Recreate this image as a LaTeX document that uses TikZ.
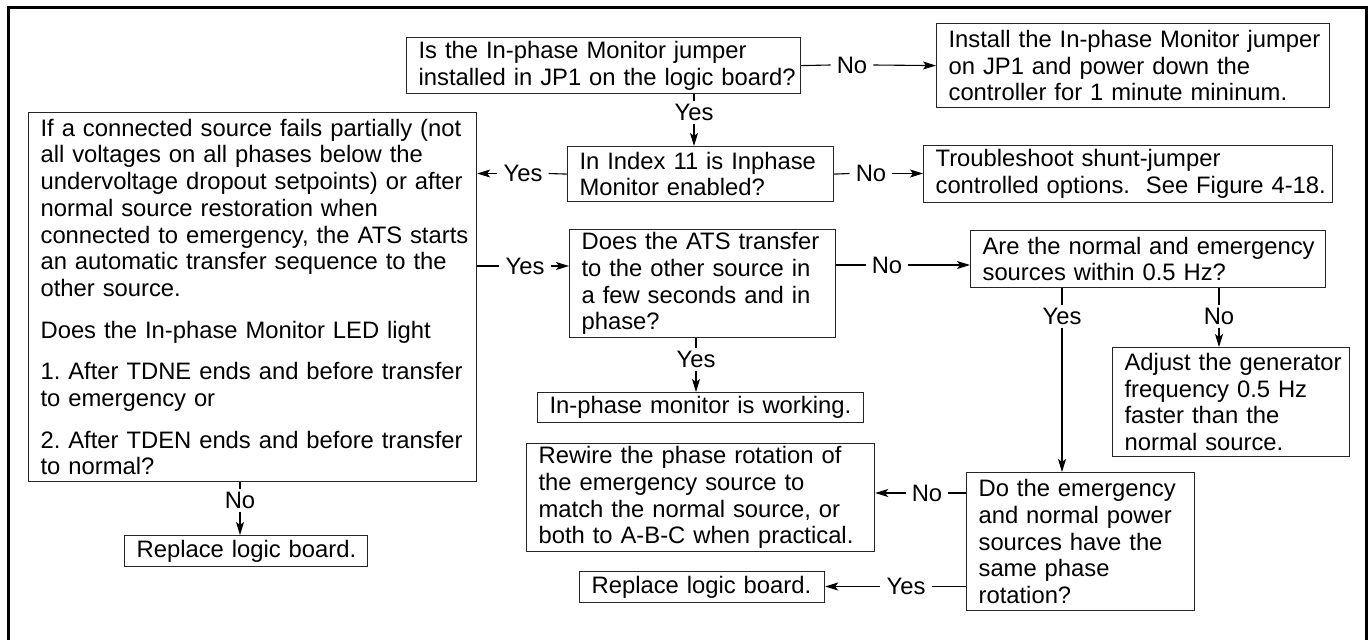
\documentclass[tikz,border=0pt]{standalone}
\usepackage{fontspec}
\setmainfont{Liberation Sans}
\usetikzlibrary{arrows.meta}
\frenchspacing
\newcommand\fsz{\fontsize{23.8}{26.7}\selectfont}
\begin{document}
\begin{tikzpicture}[x=1pt,y=-1pt,
  box/.style={draw=black!85,line width=1.2pt,anchor=north west,align=left,
    inner xsep=12pt,inner ysep=0pt,font=\fsz,
    execute at begin node={\frenchspacing\rightskip=-14pt plus 1fill\relax}},
  lbl/.style={font=\fsz,inner xsep=6pt,inner ysep=3pt},
  conn/.style={line width=1.1pt},
  arr/.style={conn,-{Stealth[length=13pt,width=8pt,inset=3pt]}}]
\useasboundingbox (0,0) rectangle (1371,640);
\draw[line width=3pt] (8,640) -- (8,7) -- (1366,7) -- (1366,640);

\node[box,text width=370pt,minimum height=56pt] (b1) at (406,37)
  {Is the In-phase Monitor jumper\\installed in JP1 on the logic board?};
\node[box,text width=369pt,minimum height=84pt] (b2) at (936,23)
  {Install the In-phase Monitor jumper\\on JP1 and power down the\\controller for 1 minute mininum.};
\node[box,text width=242pt,minimum height=55pt] (b3) at (567,146)
  {In Index 11 is Inphase\\Monitor enabled?};
\node[box,text width=385pt,minimum height=57pt] (b4) at (923,145)
  {Troubleshoot shunt-jumper\\controlled options.\ \ See Figure 4-18.};
\node[box,text width=424pt,minimum height=369pt] (big) at (28,112)
  {If a connected source fails partially (not\\all voltages on all phases below the\\undervoltage dropout setpoints) or after\\normal source restoration when\\connected to emergency, the ATS starts\\an automatic transfer sequence to the\\other source.\\[15pt]Does the In-phase Monitor LED light\\[15pt]1. After TDNE ends and before transfer\\to emergency or\\[15pt]2. After TDEN ends and before transfer\\to normal?};
\node[box,text width=242pt,minimum height=108pt] (b5) at (569,229)
  {Does the ATS transfer\\to the other source in\\a few seconds and in\\phase?};
\node[box,text width=331pt,minimum height=57pt] (b6) at (970,230)
  {Are the normal and emergency\\sources within 0.5 Hz?};
\node[box,text width=302pt,minimum height=30pt] (b7) at (537,392)
  {In-phase monitor is working.};
\node[box,text width=213pt,minimum height=109pt] (b8) at (1112,347)
  {Adjust the generator\\frequency 0.5 Hz\\faster than the\\normal source.};
\node[box,text width=204pt,minimum height=138pt] (b9) at (966,472)
  {Do the emergency\\and normal power\\sources have the\\same phase\\rotation?};
\node[box,text width=324pt,minimum height=108pt] (b10) at (526,443)
  {Rewire the phase rotation of\\the emergency source to\\match the normal source, or\\both to A-B-C when practical.};
\node[box,text width=221pt,minimum height=31pt] (b11) at (579,571)
  {Replace logic board.};
\node[box,text width=219pt,minimum height=31pt] (b12) at (124,535)
  {Replace logic board.};

% labels
\node[lbl] (no1) at (852,65) {No};
\node[lbl] (yes1) at (694,112.5) {Yes};
\node[lbl] (yes2) at (523,173.5) {Yes};
\node[lbl] (no2) at (871,173.5) {No};
\node[lbl] (yes3) at (525,266) {Yes};
\node[lbl] (no3) at (887,265) {No};
\node[lbl] (yes5) at (696,359) {Yes};
\node[lbl] (yes4) at (1062,316) {Yes};
\node[lbl] (no4) at (1219,316) {No};
\node[lbl] (no5) at (927,493) {No};
\node[lbl] (yes6) at (906,586.5) {Yes};
\node[lbl] (no6) at (240,500) {No};

% connectors
\draw[conn] (b1.east) -- (no1.west);
\draw[arr] (no1.east) -- (b2.west);
\draw[conn] (yes1 |- b1.south) -- (yes1.north);
\draw[arr] (yes1.south) -- (yes1 |- b3.north);
\draw[conn] (b3.west) -- (yes2.east);
\draw[arr] (yes2.west) -- (yes2 -| big.east);
\draw[conn] (b3.east) -- (no2.west);
\draw[arr] (no2.east) -- (no2 -| b4.west);
\draw[conn] (yes3 -| big.east) -- (yes3.west);
\draw[arr] (yes3.east) -- (yes3 -| b5.west);
\draw[conn] (no3 -| b5.east) -- (no3.west);
\draw[arr] (no3.east) -- (no3 -| b6.west);
\draw[conn] (yes5 |- b5.south) -- (yes5.north);
\draw[arr] (yes5.south) -- (yes5 |- b7.north);
\draw[conn] (yes4 |- b6.south) -- (yes4.north);
\draw[arr] (yes4.south) -- (yes4 |- b9.north);
\draw[conn] (no4 |- b6.south) -- (no4.north);
\draw[arr] (no4.south) -- (no4 |- b8.north);
\draw[conn] (no5 -| b9.west) -- (no5.east);
\draw[arr] (no5.west) -- (no5 -| b10.east);
\draw[conn] (yes6 -| b9.west) -- (yes6.east);
\draw[arr] (yes6.west) -- (yes6 -| b11.east);
\draw[conn] (no6 |- big.south) -- (no6.north);
\draw[arr] (no6.south) -- (no6 |- b12.north);
\end{tikzpicture}
\end{document}
